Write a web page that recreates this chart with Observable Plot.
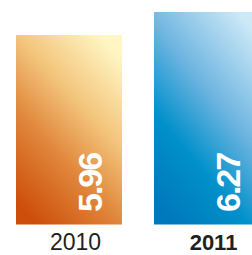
<!DOCTYPE html>
<html><head><meta charset="utf-8">
<script src="https://cdn.jsdelivr.net/npm/d3@7"></script>
<script src="https://cdn.jsdelivr.net/npm/@observablehq/plot@0.6"></script>
<style>
html,body{margin:0;padding:0;background:#fff;overflow:hidden}
.vals{letter-spacing:-2px}
</style></head><body><div id="chart"></div>
<script>
const years = ["2010", "2011"];
const values = [5.96, 6.27];
const boldYears = ["2011"];
const baseline = 3.41;
const gradients = {
  "2010": [[0, "#CD4E0A"], [0.35, "#E0863A"], [0.65, "#F3C57C"], [1, "#FFF6C4"]],
  "2011": [[0, "#0079BC"], [0.3, "#0090CA"], [0.6, "#6DB4E0"], [1, "#CDE9F7"]]
};
const data = years.map((year, i) => ({year, value: values[i], bold: boldYears.includes(year)}));

function defs() {
  const d = d3.create("svg:defs");
  for (const y of years) {
    const g = d.append("linearGradient").attr("id", "grad" + y)
      .attr("x1", 0.2).attr("y1", 1).attr("x2", 0.8).attr("y2", 0);
    for (const [o, c] of gradients[y]) g.append("stop").attr("offset", o).attr("stop-color", c);
  }
  return d.node();
}
const font = "Liberation Sans, Arial, Helvetica, sans-serif";
const chart = Plot.plot({
  width: 252, height: 255,
  margin: 0,
  style: {overflow: "hidden", background: "#fff"},
  x: {domain: years, range: [16, 260], paddingInner: 0.232, paddingOuter: 0, axis: null},
  y: {domain: [baseline, 6.27], range: [224.5, 12], axis: null},
  color: {type: "ordinal", domain: years, range: years.map(y => `url(#grad${y})`)},
  marks: [
    defs,
    Plot.barY(data, {x: "year", y1: baseline, y2: "value", fill: "year"}),
    Plot.text(data, {x: "year", y: baseline, text: d => d.value.toFixed(2), rotate: -90,
      textAnchor: "start", lineAnchor: "middle", dx: 22, dy: -13, fill: "white",
      fontWeight: "bold", fontSize: 34, fontFamily: font, className: "vals"}),
    Plot.text(data.filter(d => !d.bold), {x: "year", y: baseline, text: "year", lineAnchor: "top",
      dy: 9, dx: 6, fontSize: 23, fill: "#231F20", fontFamily: font}),
    Plot.text(data.filter(d => d.bold), {x: "year", y: baseline, text: "year", lineAnchor: "top",
      dy: 9, dx: 6, fontSize: 22, fontWeight: "bold", fill: "#231F20", fontFamily: font})
  ]
});
document.getElementById("chart").appendChild(chart);
</script></body></html>
